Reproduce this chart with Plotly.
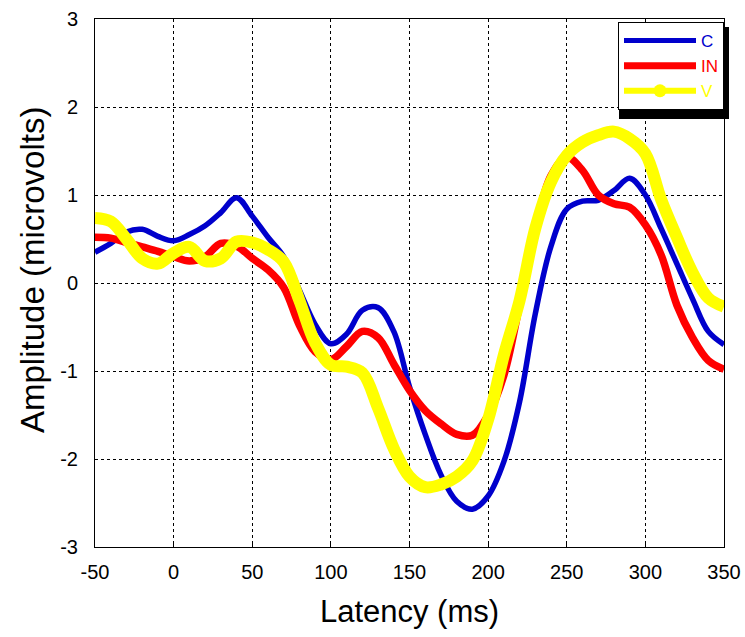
import plotly.graph_objects as go

# Latency axis (ms) and grand-average amplitudes (microvolts) per condition
latency = [-50, -40, -30, -20, -10, 0, 10, 20, 30, 40, 50, 60, 70, 80, 90, 100,
           110, 120, 130, 140, 150, 160, 170, 180, 190, 200, 210, 220, 230, 240,
           250, 260, 270, 280, 290, 300, 310, 320, 330, 340, 350]

amp_c = [0.35, 0.45, 0.58, 0.61, 0.53, 0.48, 0.55, 0.65, 0.80, 0.97, 0.76, 0.52,
         0.30, -0.08, -0.47, -0.69, -0.58, -0.31, -0.28, -0.55, -1.18, -1.72,
         -2.18, -2.48, -2.57, -2.42, -2.03, -1.35, -0.35, 0.42, 0.84, 0.93, 0.94,
         1.05, 1.19, 1.00, 0.62, 0.22, -0.18, -0.55, -0.70]

amp_in = [0.52, 0.51, 0.46, 0.41, 0.36, 0.30, 0.25, 0.30, 0.45, 0.42, 0.28, 0.15,
          -0.05, -0.48, -0.78, -0.87, -0.72, -0.55, -0.62, -0.92, -1.22, -1.45,
          -1.60, -1.72, -1.73, -1.50, -1.05, -0.25, 0.62, 1.22, 1.43, 1.28, 1.00,
          0.90, 0.86, 0.66, 0.32, -0.25, -0.62, -0.88, -0.98]

amp_v = [0.74, 0.70, 0.50, 0.28, 0.22, 0.34, 0.41, 0.25, 0.28, 0.47, 0.46, 0.38,
         0.24, -0.20, -0.68, -0.93, -0.95, -1.02, -1.42, -1.88, -2.20, -2.32,
         -2.29, -2.20, -2.02, -1.55, -0.82, -0.20, 0.62, 1.15, 1.45, 1.60, 1.68,
         1.72, 1.64, 1.47, 0.95, 0.52, 0.12, -0.17, -0.27]

series_names = ["C", "IN", "V"]
x_ticks = [-50, 0, 50, 100, 150, 200, 250, 300, 350]
y_ticks = [-3, -2, -1, 0, 1, 2, 3]

FONT = "Arial, Liberation Sans, sans-serif"
BLUE = "#0000cc"
RED = "#ff0000"
YELLOW = "#ffff00"
colors = [BLUE, RED, YELLOW]
widths = [5.5, 7.5, 12]

# Plot-area geometry in pixels
L, R, T, B, W, H = 95, 21, 19, 90, 745, 637
PW, PH = W - L - R, H - T - B

fig = go.Figure()
for name, ys, col, w in zip(series_names, [amp_c, amp_in, amp_v], colors, widths):
    fig.add_trace(go.Scatter(
        x=latency, y=ys, mode="lines", name=name, legendgroup=name,
        showlegend=False, line=dict(color=col, width=w, shape="spline")))

# Legend keys: thinner strokes, and a dot on the V key
legend_widths = [5, 7, 6]
for name, col, w in zip(series_names, colors, legend_widths):
    fig.add_trace(go.Scatter(
        x=[None], y=[None], name=f'<span style="color:{col}">{name}</span>',
        legendgroup=name, mode="lines+markers" if name == "V" else "lines",
        line=dict(color=col, width=w),
        marker=dict(color=col, size=13, line=dict(width=0))))

axis_common = dict(
    showline=True, linecolor="black", linewidth=1, mirror=True,
    showgrid=True, gridcolor="black", griddash="dot", gridwidth=1,
    zeroline=False, ticks="inside", ticklen=3, tickcolor="black",
    tickfont=dict(family=FONT, size=20, color="black"),
    automargin=False,
)

fig.update_xaxes(
    range=[-50, 350], tickvals=x_ticks, ticktext=[str(v) for v in x_ticks],
    ticklabelstandoff=7,
    title=dict(text="Latency (ms)", font=dict(family=FONT, size=31, color="black"),
               standoff=18),
    **axis_common)
fig.update_yaxes(
    range=[-3, 3], tickvals=y_ticks, ticktext=[str(v) for v in y_ticks],
    ticklabelstandoff=12,
    **axis_common)

# Vertical axis title, sitting slightly above the plot-area centre
fig.add_annotation(
    text="Amplitude (microvolts)", textangle=-90, showarrow=False,
    xref="paper", yref="paper", x=(32 - L) / PW, y=(T + PH - 270) / PH,
    xanchor="center", yanchor="middle",
    font=dict(family=FONT, size=33, color="black"))

# Drop shadow behind the legend box
fig.add_shape(type="rect", xref="paper", yref="paper",
              x0=(619 - L) / PW, x1=(729 - L) / PW,
              y0=(T + PH - 119) / PH, y1=(T + PH - 27) / PH,
              fillcolor="black", line=dict(width=0), layer="above")

fig.update_layout(
    width=W, height=H,
    margin=dict(l=L, r=R, t=T, b=B),
    paper_bgcolor="white", plot_bgcolor="white",
    showlegend=True,
    legend=dict(
        x=1, xanchor="right", y=1 - 3 / PH, yanchor="top",
        bgcolor="white", bordercolor="black", borderwidth=1,
        font=dict(family=FONT, size=17), itemwidth=72,
        tracegroupgap=0,
    ),
)

fig.write_html("out.html")
